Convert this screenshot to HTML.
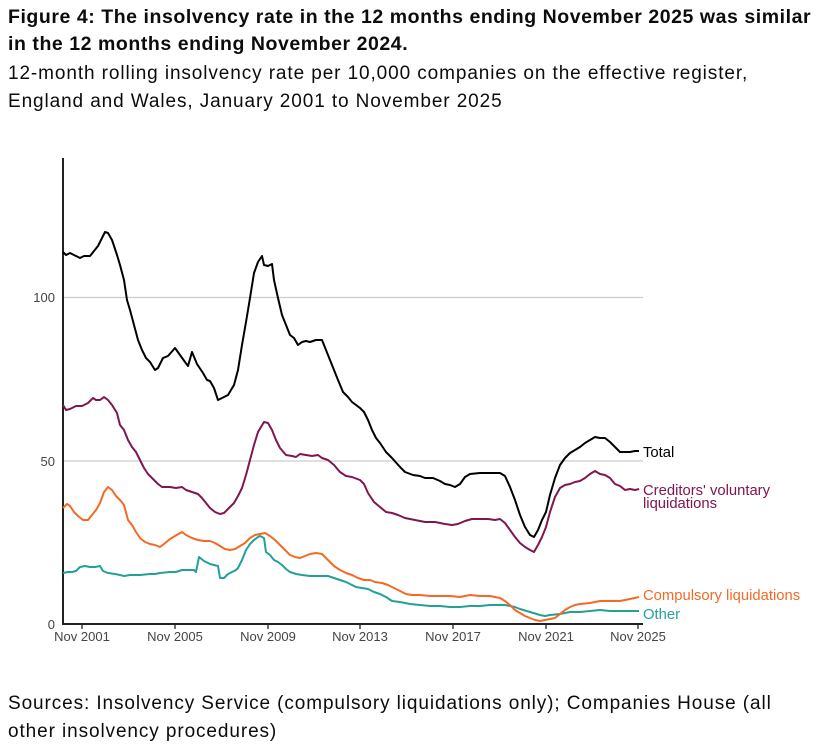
<!DOCTYPE html>
<html><head><meta charset="utf-8"><style>
body{margin:0;width:817px;height:750px;overflow:hidden;background:#fff;font-family:"Liberation Sans",sans-serif;color:#0b0c0c;}
.t{position:absolute;left:8px;white-space:nowrap;}
</style></head><body>
<div class="t" style="top:4px;font-size:19.5px;font-weight:bold;line-height:27px;letter-spacing:0.55px;">Figure 4: The insolvency rate in the 12 months ending November 2025 was similar to<br>in the 12 months ending November 2024.</div>
<div class="t" style="top:60px;font-size:19px;line-height:28px;letter-spacing:0.9px;">12-month rolling insolvency rate per 10,000 companies on the effective register,<br>England and Wales, January 2001 to November 2025</div>
<div class="t" style="top:690px;font-size:19px;line-height:28px;letter-spacing:0.9px;">Sources: Insolvency Service (compulsory liquidations only); Companies House (all<br>other insolvency procedures)</div>
<svg width="817" height="750" style="position:absolute;left:0;top:0" font-family="Liberation Sans, sans-serif">
<g stroke="#ccc" stroke-width="1.3"><line x1="63" y1="297.5" x2="643" y2="297.5"/><line x1="63" y1="461" x2="643" y2="461"/></g>
<g font-size="13" fill="#444" text-anchor="end"><text x="55" y="302">100</text><text x="55" y="466">50</text><text x="55" y="629">0</text></g>
<g stroke="#222" stroke-width="2"><line x1="63" y1="158" x2="63" y2="625"/><line x1="62" y1="624" x2="643" y2="624"/></g>
<g stroke="#222" stroke-width="1.3"><line x1="82" y1="624" x2="82" y2="629"/><line x1="175" y1="624" x2="175" y2="629"/><line x1="268" y1="624" x2="268" y2="629"/><line x1="360" y1="624" x2="360" y2="629"/><line x1="453" y1="624" x2="453" y2="629"/><line x1="546" y1="624" x2="546" y2="629"/><line x1="638" y1="624" x2="638" y2="629"/></g>
<g font-size="13" fill="#444" text-anchor="middle"><text x="82" y="641">Nov 2001</text><text x="175" y="641">Nov 2005</text><text x="268" y="641">Nov 2009</text><text x="360" y="641">Nov 2013</text><text x="453" y="641">Nov 2017</text><text x="546" y="641">Nov 2021</text><text x="638" y="641">Nov 2025</text></g>
<g fill="none" stroke-width="2" stroke-linejoin="round">
<polyline stroke="#22a196" points="63,573 68,572 72,572 76,571 80,567 85,566 90,567 95,567 100,566 103,571 108,573 115,574 120,575 124,576 130,575 140,575 150,574 155,574 160,573 170,572 176,572 182,570 188,570 194,570 196,572 199,557 204,561 210,564 214,565 218,566 220,578 224,578 228,574 232,572 236,570 238,568 242,560 246,550 250,544 254,540 258,537 260,536 264,538 266,552 270,555 274,560 278,562 282,565 286,569 290,572 296,574 302,575 310,576 320,576 328,576 334,578 340,580 346,582 352,585 356,587 362,588 368,589 374,592 380,594 386,597 392,601 400,602 410,604 420,605 430,606 440,606 450,607 460,607 470,606 480,606 490,605 500,605 505,605 510,606 515,607 520,609 530,612 540,615 545,616 550,615 560,614 570,612 580,612 590,611 600,610 610,611 620,611 630,611 639,611"/>
<polyline stroke="#f46a25" points="63,508 67,504 70,506 74,512 78,516 83,520 88,520 92,515 96,510 100,503 104,492 108,487 112,490 116,496 120,500 124,505 128,520 132,525 136,532 140,538 145,542 150,544 155,545 160,547 164,544 170,539 175,536 182,532 186,535 192,538 198,540 204,541 210,541 215,543 220,546 225,549 230,550 235,549 240,546 245,543 250,538 255,535 260,534 265,533 270,536 275,540 280,545 285,550 290,555 295,557 300,558 305,556 310,554 316,553 322,554 328,560 334,566 340,570 346,573 352,575 358,578 364,580 370,580 375,582 382,583 388,585 394,588 400,591 406,594 412,595 420,595 430,596 440,596 450,596 460,597 470,595 480,596 490,596 500,598 505,601 510,605 515,610 520,613 525,616 530,618 535,620 540,621 545,620 550,619 555,618 560,614 565,610 570,607 575,605 580,604 590,603 600,601 610,601 620,601 630,599 639,597"/>
<polyline stroke="#801650" points="63,405 66,410 70,409 76,406 82,406 88,403 93,398 96,400 100,400 104,397 108,400 112,405 117,413 120,425 124,430 128,440 132,447 136,452 140,460 144,468 148,474 152,478 158,484 162,487 170,487 176,488 182,487 186,490 192,492 198,494 202,498 206,503 210,508 215,512 220,514 224,513 228,509 234,503 238,496 242,488 246,475 250,460 254,445 258,432 264,422 268,423 272,430 276,440 280,448 286,455 292,456 296,457 300,454 306,455 312,456 318,455 322,458 328,460 334,465 340,472 346,476 352,477 360,480 364,484 368,493 374,502 380,507 386,512 392,513 398,515 405,518 415,520 425,522 435,522 445,524 452,525 458,524 465,521 472,519 480,519 488,519 495,520 500,519 505,523 510,530 515,537 520,543 525,547 530,550 534,552 538,545 542,537 546,527 550,512 555,497 560,488 565,485 570,484 575,482 580,481 585,478 590,474 595,471 600,474 605,475 610,478 615,484 620,486 625,490 630,489 635,490 639,489"/>
<polyline stroke="#000" points="63,252 66,255 70,253 76,256 80,258 84,256 90,256 94,251 98,246 102,238 105,232 108,233 112,240 117,255 120,265 124,280 127,300 130,310 134,325 138,340 142,350 146,358 150,362 155,370 158,368 163,358 168,356 175,348 180,355 185,362 188,366 192,352 197,364 203,373 207,380 210,381 214,388 218,400 222,398 228,395 234,385 238,370 242,345 246,322 250,298 254,273 258,262 262,256 264,265 268,266 272,264 274,280 278,298 282,315 286,325 290,335 294,338 298,345 302,342 306,341 310,342 316,340 320,340 322,340 326,350 332,365 338,380 343,392 348,397 352,402 356,405 360,408 364,412 368,420 372,430 376,438 380,443 386,452 392,458 400,467 405,472 413,475 420,476 425,478 433,478 440,481 445,484 450,485 455,487 460,484 465,477 470,474 480,473 490,473 500,473 505,476 510,487 515,500 520,515 525,527 530,535 534,537 538,530 542,520 546,512 550,495 555,478 560,465 565,458 570,453 575,450 580,447 585,443 590,440 595,437 600,438 605,438 610,442 615,447 620,452 625,452 630,452 635,451 639,451"/>
</g>
<g font-size="14.8"><text x="643" y="457" fill="#000">Total</text>
<text x="643" y="495" fill="#801650">Creditors' voluntary</text><text x="643" y="508" fill="#801650">liquidations</text>
<text x="643" y="600" fill="#f46a25">Compulsory liquidations</text>
<text x="643" y="619" fill="#22a196">Other</text></g>
</svg>
</body></html>
